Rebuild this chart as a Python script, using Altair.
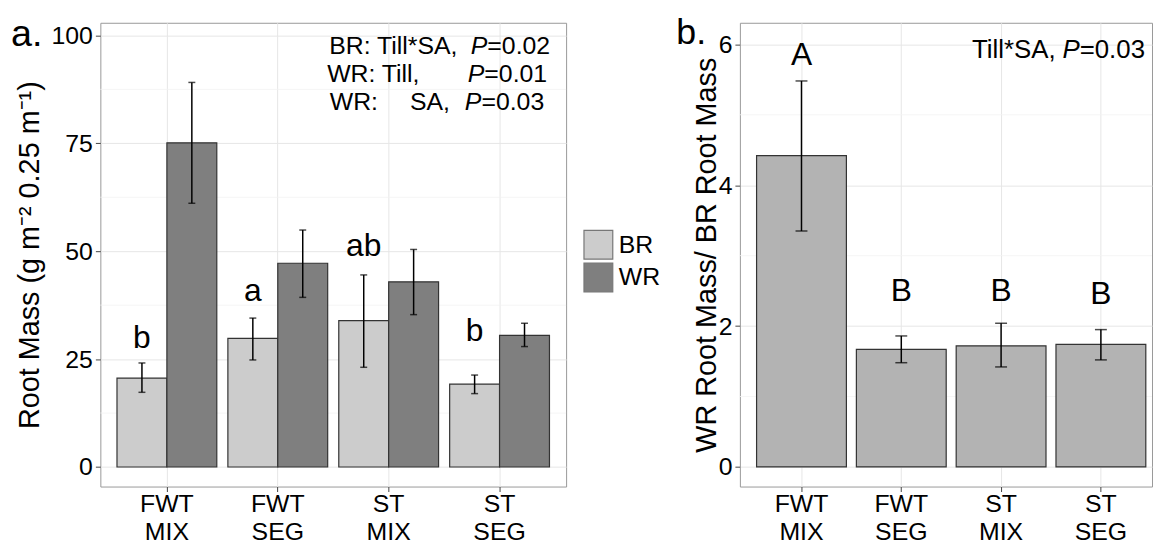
import altair as alt
import pandas as pd

FONT = "Liberation Sans"

# ---------------- data ----------------
categories = ["FWT MIX", "FWT SEG", "ST MIX", "ST SEG"]
root_types = ["BR", "WR"]

br_mass = [20.6, 29.8, 33.9, 19.2]
br_lo = [17.3, 24.8, 23.1, 17.0]
br_hi = [24.1, 34.5, 44.5, 21.3]

wr_mass = [75.1, 47.2, 42.9, 30.5]
wr_lo = [61.1, 39.3, 35.3, 27.9]
wr_hi = [89.1, 54.9, 50.4, 33.3]

letters_a = ["b", "a", "ab", "b"]
letters_a_y = [27.5, 38.5, 48.85, 29.1]

ratio = [4.42, 1.67, 1.72, 1.74]
ratio_lo = [3.35, 1.48, 1.42, 1.52]
ratio_hi = [5.48, 1.86, 2.04, 1.95]

letters_b = ["A", "B", "B", "B"]
letters_b_y = [5.70, 2.36, 2.36, 2.31]

y_ticks_a = [0, 25, 50, 75, 100]
y_minor_a = [12.5, 37.5, 62.5, 87.5]
y_ticks_b = [0, 2, 4, 6]
y_minor_b = [1, 3, 5]

# ---------------- tables ----------------
rows = []
for i, c in enumerate(categories):
    rows.append({"cat": c, "root": "BR", "mass": br_mass[i], "lo": br_lo[i], "hi": br_hi[i]})
    rows.append({"cat": c, "root": "WR", "mass": wr_mass[i], "lo": wr_lo[i], "hi": wr_hi[i]})
df_a = pd.DataFrame(rows)
df_a_letters = pd.DataFrame({"cat": categories, "root": ["BR"] * 4,
                             "letter": letters_a, "ly": letters_a_y})
df_b = pd.DataFrame({"cat": categories, "ratio": ratio, "lo": ratio_lo, "hi": ratio_hi,
                     "letter": letters_b, "ly": letters_b_y})
df_minor_a = pd.DataFrame({"v": y_minor_a})
df_minor_b = pd.DataFrame({"v": y_minor_b})
dummy = pd.DataFrame({"d": [0]})

GRID = "#e6e6e6"
MINOR = "#f2f2f2"


def note(text, x, y, size=25, align="left", italic=False):
    return alt.Chart(dummy).mark_text(
        text=text, align=align, baseline="alphabetic", fontSize=size, font=FONT,
        fontStyle="italic" if italic else "normal", color="black"
    ).encode(x=alt.value(x), y=alt.value(y))


x_axis = alt.Axis(labelExpr="split(datum.label, ' ')", labelAngle=0, labelFontSize=25,
                  labelLineHeight=28, labelPadding=0, tickSize=5, grid=True,
                  gridColor=GRID, bandPosition=0.5, title=None)

# ---------------- panel a ----------------
xa = alt.X("cat:N", sort=categories, title=None,
           scale=alt.Scale(paddingInner=0.1, paddingOuter=0.15), axis=x_axis)
xoff = alt.XOffset("root:N", sort=root_types,
                   scale=alt.Scale(domain=root_types, paddingInner=0, paddingOuter=0))
ya_scale = alt.Scale(domain=[-4.53, 102.92], nice=False, zero=False)
A_TITLE = "Root Mass (g m⁻² 0.25 m⁻¹)"
ya_axis = alt.Axis(values=y_ticks_a, format="d", labelFontSize=25, labelPadding=3,
                   tickSize=5, grid=True, gridColor=GRID,
                   title=A_TITLE, titleFontSize=29,
                   titleX=-62, titleY=233.5, titleAngle=-90, titleBaseline="alphabetic",
                   titleAlign="center")

minor_a = alt.Chart(df_minor_a).mark_rule(color=MINOR, strokeWidth=0.8).encode(
    y=alt.Y("v:Q", scale=ya_scale, axis=ya_axis, title=A_TITLE))

bars_a = alt.Chart(df_a).mark_bar(stroke="#333333", strokeWidth=1.2).encode(
    x=xa, xOffset=xoff,
    y=alt.Y("mass:Q", scale=ya_scale, axis=ya_axis, title=A_TITLE),
    y2=alt.datum(0),
    color=alt.Color("root:N", sort=root_types,
                    scale=alt.Scale(domain=root_types, range=["#cccccc", "#7f7f7f"]),
                    legend=alt.Legend(title=None, orient="none", legendX=486, legendY=208,
                                      symbolType="square", symbolSize=841,
                                      symbolStrokeColor="#777777", symbolStrokeWidth=1.2,
                                      labelFontSize=25, labelFont=FONT, labelColor="black",
                                      labelOffset=5, rowPadding=-4, padding=0)),
)
err_a = alt.Chart(df_a).mark_rule(color="black", strokeWidth=1.5).encode(
    x=xa, xOffset=xoff,
    y=alt.Y("lo:Q", scale=ya_scale, axis=ya_axis, title=A_TITLE), y2="hi:Q")
cap_lo_a = alt.Chart(df_a).mark_tick(orient="horizontal", size=7, thickness=1.5,
                                     color="black").encode(
    x=xa, xOffset=xoff, y=alt.Y("lo:Q", scale=ya_scale, axis=ya_axis, title=A_TITLE))
cap_hi_a = alt.Chart(df_a).mark_tick(orient="horizontal", size=7, thickness=1.5,
                                     color="black").encode(
    x=xa, xOffset=xoff, y=alt.Y("hi:Q", scale=ya_scale, axis=ya_axis, title=A_TITLE))
let_a = alt.Chart(df_a_letters).mark_text(fontSize=32, font=FONT, baseline="alphabetic",
                                          align="center", color="black").encode(
    x=xa, xOffset=xoff, y=alt.Y("ly:Q", scale=ya_scale, axis=ya_axis, title=A_TITLE),
    text="letter:N")

notes_a = [
    note("a.", -90, 23, size=38),
    note("BR: Till*SA,", 359.6, 31.7, align="right"),
    note("P", 373, 31.7, italic=True),
    note("=0.02", 389.7, 31.7),
    note("WR: Till,", 321.4, 60, align="right"),
    note("P", 370, 60, italic=True),
    note("=0.01", 386.7, 60),
    note("WR:", 231, 88.3),
    note("SA,", 352, 88.3, align="right"),
    note("P", 367, 88.3, italic=True),
    note("=0.03", 383.7, 88.3),
]

panel_a = alt.layer(minor_a, bars_a, err_a, cap_lo_a, cap_hi_a, let_a, *notes_a).properties(
    width=469, height=467)

# ---------------- panel b ----------------
xb = alt.X("cat:N", sort=categories, title=None,
           scale=alt.Scale(paddingInner=0.1, paddingOuter=0.1147, align=0.729), axis=x_axis)
yb_scale = alt.Scale(domain=[-0.278, 6.306], nice=False, zero=False)
B_TITLE = "WR Root Mass/ BR Root Mass"
yb_axis = alt.Axis(values=y_ticks_b, format="d", labelFontSize=25, labelPadding=3,
                   tickSize=5, grid=True, gridColor=GRID, title=B_TITLE, titleFontSize=29,
                   titleX=-25, titleY=233.5, titleAngle=-90, titleBaseline="alphabetic",
                   titleAlign="center")

minor_b = alt.Chart(df_minor_b).mark_rule(color=MINOR, strokeWidth=0.8).encode(
    y=alt.Y("v:Q", scale=yb_scale, axis=yb_axis, title=B_TITLE))
bars_b = alt.Chart(df_b).mark_bar(color="#b3b3b3", stroke="#333333", strokeWidth=1.2).encode(
    x=xb, y=alt.Y("ratio:Q", scale=yb_scale, axis=yb_axis, title=B_TITLE), y2=alt.datum(0))
err_b = alt.Chart(df_b).mark_rule(color="black", strokeWidth=1.5).encode(
    x=xb, y=alt.Y("lo:Q", scale=yb_scale, axis=yb_axis, title=B_TITLE), y2="hi:Q")
cap_lo_b = alt.Chart(df_b).mark_tick(orient="horizontal", size=12, thickness=1.5,
                                     color="black").encode(
    x=xb, y=alt.Y("lo:Q", scale=yb_scale, axis=yb_axis, title=B_TITLE))
cap_hi_b = alt.Chart(df_b).mark_tick(orient="horizontal", size=12, thickness=1.5,
                                     color="black").encode(
    x=xb, y=alt.Y("hi:Q", scale=yb_scale, axis=yb_axis, title=B_TITLE))
let_b = alt.Chart(df_b).mark_text(fontSize=32, font=FONT, baseline="alphabetic",
                                  align="center", color="black").encode(
    x=xb, y=alt.Y("ly:Q", scale=yb_scale, axis=yb_axis, title=B_TITLE), text="letter:N")

notes_b = [
    note("b.", -64, 21, size=36),
    note("Till*SA,", 318, 35, size=26, align="right"),
    note("P", 324.8, 35, size=26, italic=True),
    note("=0.03", 342.2, 35, size=26),
]

panel_b = alt.layer(minor_b, bars_b, err_b, cap_lo_b, cap_hi_b, let_b, *notes_b).properties(
    width=415, height=467)

chart = alt.hconcat(panel_a, panel_b, spacing=175, bounds="flush").resolve_scale(
    color="independent").resolve_legend(color="independent").properties(
    padding={"left": 2, "top": 4, "right": 0, "bottom": 0},
    background="white",
).configure(font=FONT).configure_view(stroke="#999999", strokeWidth=1).configure_axis(
    labelFont=FONT, titleFont=FONT, labelColor="black", titleColor="black",
    titleFontWeight="normal", tickColor="#444444", domain=False, gridWidth=1)

chart.save("out.html", embed_options={"renderer": "svg", "actions": False})
